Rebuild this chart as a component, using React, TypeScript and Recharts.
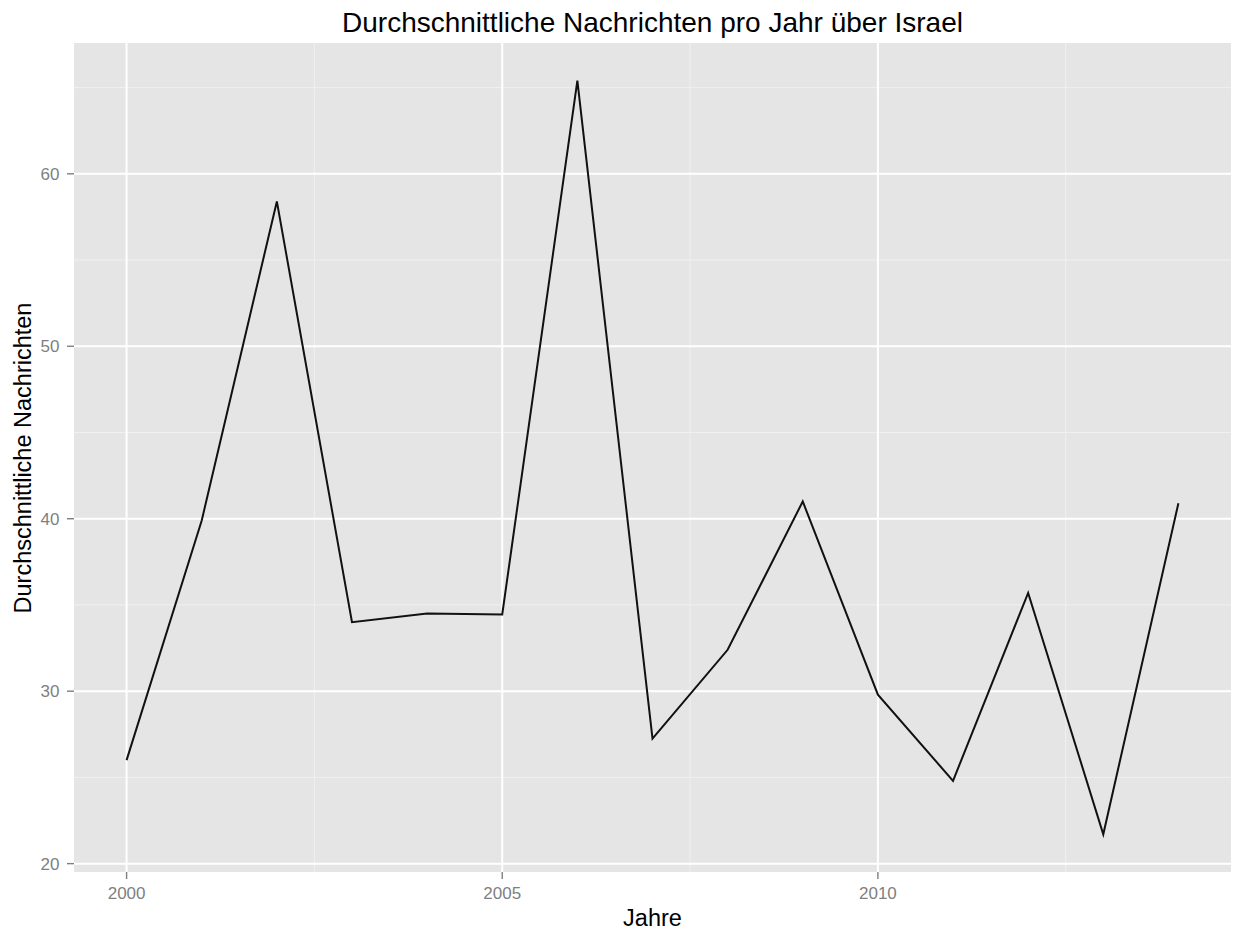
import React from "react";
import { LineChart, Line, XAxis, YAxis, CartesianGrid, Label } from "recharts";

const years = [2000, 2001, 2002, 2003, 2004, 2005, 2006, 2007, 2008, 2009, 2010, 2011, 2012, 2013, 2014];
const averages = [26.0, 39.9, 58.4, 34.0, 34.5, 34.45, 65.4, 27.25, 32.4, 41.0, 29.8, 24.8, 35.7, 21.7, 40.9];

const xTicks = [2000, 2005, 2010];
const xMinor = [2002.5, 2007.5, 2012.5];
const yTicks = [20, 30, 40, 50, 60];
const yMinor = [25, 35, 45, 55, 65];

const title = "Durchschnittliche Nachrichten pro Jahr über Israel";
const xTitle = "Jahre";
const yTitle = "Durchschnittliche Nachrichten";

const data = years.map((year, i) => ({ year, value: averages[i] }));

// ggplot-style 5% expansion on each side
const expand = (vals: number[]) => {
  const lo = Math.min(...vals);
  const hi = Math.max(...vals);
  const pad = (hi - lo) * 0.05;
  return [lo - pad, hi + pad];
};

const FONT = '"Liberation Sans", Arial, Helvetica, sans-serif';
const W = 1233;
const H = 933;
const PLOT_LEFT = 74;
const PLOT_RIGHT = 1231;

export default function App() {
  return (
    <div style={{ position: "absolute", left: 0, top: 0, width: W, height: H, background: "#fff", fontFamily: FONT }}>
      <div
        style={{
          position: "absolute",
          left: PLOT_LEFT,
          width: PLOT_RIGHT - PLOT_LEFT,
          top: 9,
          fontSize: 28,
          lineHeight: "28px",
          textAlign: "center",
          color: "#000",
        }}
      >
        {title}
      </div>
      <LineChart width={W} height={H} data={data} margin={{ top: 43, right: W - PLOT_RIGHT, bottom: 0, left: 0 }}>
        <CartesianGrid
          fill="#e5e5e5"
          stroke="#f0f0f0"
          strokeWidth={1}
          horizontalValues={yMinor}
          verticalValues={xMinor}
        />
        <CartesianGrid stroke="#ffffff" strokeWidth={2} horizontalValues={yTicks} verticalValues={xTicks} />
        <XAxis
          dataKey="year"
          type="number"
          domain={expand(years)}
          ticks={xTicks}
          height={61}
          axisLine={false}
          tickSize={7}
          tickMargin={8}
          tickLine={{ stroke: "#7f7f7f", strokeWidth: 1.4 }}
          tick={{ fill: "#7f7f7f", fontSize: 17, fontFamily: FONT }}
        >
          <Label
            content={() => (
              <text x={(PLOT_LEFT + PLOT_RIGHT) / 2} y={926} textAnchor="middle" fontSize={23.5} fontFamily={FONT} fill="#000">
                {xTitle}
              </text>
            )}
          />
        </XAxis>
        <YAxis
          type="number"
          domain={expand(averages)}
          ticks={yTicks}
          width={PLOT_LEFT}
          axisLine={false}
          tickSize={7}
          tickMargin={7.5}
          tickLine={{ stroke: "#7f7f7f", strokeWidth: 1.4 }}
          tick={{ fill: "#7f7f7f", fontSize: 17, fontFamily: FONT }}
        >
          <Label
            content={() => (
              <text
                x={31}
                y={458}
                transform="rotate(-90 31 458)"
                textAnchor="middle"
                fontSize={23.5}
                fontFamily={FONT}
                fill="#000"
              >
                {yTitle}
              </text>
            )}
          />
        </YAxis>
        <Line
          type="linear"
          dataKey="value"
          stroke="#111"
          strokeWidth={2}
          dot={false}
          isAnimationActive={false}
        />
      </LineChart>
    </div>
  );
}
